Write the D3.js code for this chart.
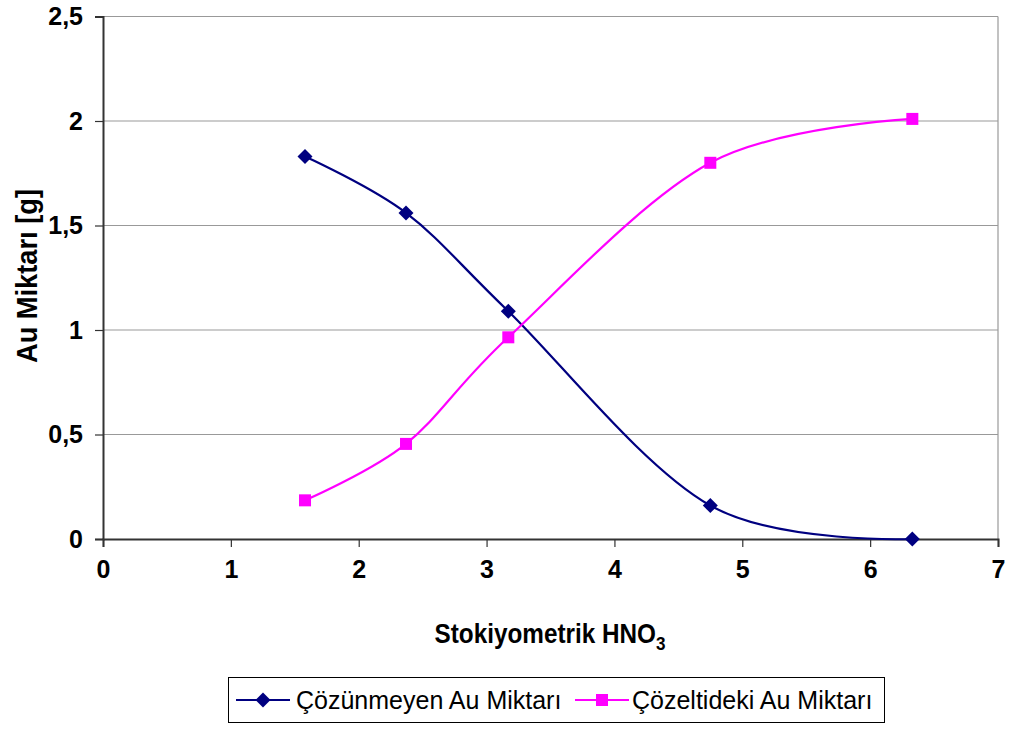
<!DOCTYPE html>
<html>
<head>
<meta charset="utf-8">
<script src="https://cdn.jsdelivr.net/npm/d3@7"></script>
<style>
  body { margin: 0; background: #fff; }
  svg { display: block; font-family: "Liberation Sans", Arial, sans-serif; }
</style>
</head>
<body>
<svg id="chart" width="1010" height="729"></svg>
<script>
// Stoichiometric HNO3 ratio used in each run
const hno3 = [1.58, 2.37, 3.17, 4.75, 6.33];
// Undissolved gold (g)
const undissolved = [1.83, 1.56, 1.09, 0.16, 0.0];
// Gold in solution (g)
const dissolved = [0.185, 0.455, 0.965, 1.80, 2.01];

const xTicks = [0, 1, 2, 3, 4, 5, 6, 7];
const yTicks = [0, 0.5, 1, 1.5, 2, 2.5];
const seriesNames = ["Çözünmeyen Au Miktarı", "Çözeltideki Au Miktarı"];
const seriesColors = ["#000080", "#ff00ff"];

const svg = d3.select("#chart");
const m = { left: 103, right: 12, top: 16.5, bottom: 190 };
const W = 1010, H = 729;

const x = d3.scaleLinear().domain([0, 7]).range([m.left, W - m.right]);
const y = d3.scaleLinear().domain([0, 2.5]).range([H - m.bottom, m.top]);

const fmt = d => String(d).replace(".", ",");

// Horizontal gridlines
svg.append("g").selectAll("line").data(yTicks.filter(d => d > 0)).join("line")
  .attr("x1", x(0)).attr("x2", x(7))
  .attr("y1", d => y(d)).attr("y2", d => y(d))
  .attr("stroke", "#999").attr("stroke-width", 1.2);

// Right border of plot area
svg.append("line")
  .attr("x1", x(7)).attr("x2", x(7)).attr("y1", y(2.5)).attr("y2", y(0))
  .attr("stroke", "#999").attr("stroke-width", 1.2);

// Y axis
const yAxis = svg.append("g").attr("transform", `translate(${x(0)},0)`)
  .call(d3.axisLeft(y).tickValues(yTicks).tickFormat(fmt).tickSize(8).tickPadding(12));
// X axis
const xAxis = svg.append("g").attr("transform", `translate(0,${y(0)})`)
  .call(d3.axisBottom(x).tickValues(xTicks).tickFormat(d3.format("d")).tickSize(8).tickPadding(13));

[yAxis, xAxis].forEach(a => {
  a.select(".domain").attr("stroke", "#333").attr("stroke-width", 2);
  a.selectAll(".tick line").attr("stroke", "#333").attr("stroke-width", 1.2);
  a.selectAll(".tick text").attr("fill", "#000")
    .style("font-size", "25px").style("font-weight", "bold")
    .style("font-family", "'Liberation Sans', Arial, sans-serif");
});

// Series lines (smoothed)
const line = d3.line().x(d => x(d[0])).y(d => y(d[1])).curve(d3.curveCatmullRom.alpha(0));
const series = [undissolved, dissolved].map(v => hno3.map((h, i) => [h, v[i]]));

series.forEach((pts, si) => {
  svg.append("path").datum(pts)
    .attr("fill", "none").attr("stroke", seriesColors[si]).attr("stroke-width", 2.2)
    .attr("d", line);
});

// Markers
const diamond = (cx, cy, r) => `M${cx},${cy - r}L${cx + r},${cy}L${cx},${cy + r}L${cx - r},${cy}Z`;
svg.append("g").selectAll("path").data(series[0]).join("path")
  .attr("d", d => diamond(x(d[0]), y(d[1]), 7.5))
  .attr("fill", seriesColors[0]);
svg.append("g").selectAll("rect").data(series[1]).join("rect")
  .attr("x", d => x(d[0]) - 6).attr("y", d => y(d[1]) - 6)
  .attr("width", 12).attr("height", 12)
  .attr("fill", seriesColors[1]);

// Axis titles (slightly condensed bold type)
svg.append("text")
  .attr("transform", "translate(550,643) scale(0.9,1)")
  .attr("text-anchor", "middle")
  .style("font-size", "27px").style("font-weight", "bold")
  .text("Stokiyometrik HNO")
  .append("tspan").attr("dy", 7).style("font-size", "19px").text("3");

svg.append("text")
  .attr("transform", "translate(37,276) rotate(-90) scale(0.94,1)")
  .attr("text-anchor", "middle")
  .style("font-size", "29px").style("font-weight", "bold")
  .text("Au Miktarı [g]");

// Legend
const lg = svg.append("g");
lg.append("rect").attr("x", 228.5).attr("y", 677.5).attr("width", 656).attr("height", 45)
  .attr("fill", "#fff").attr("stroke", "#000").attr("stroke-width", 1);
const legendItems = [
  { sx: 236, tx: 296 },
  { sx: 575, tx: 632 }
];
legendItems.forEach((it, i) => {
  const cy = 700;
  lg.append("line").attr("x1", it.sx).attr("x2", it.sx + 54).attr("y1", cy).attr("y2", cy)
    .attr("stroke", seriesColors[i]).attr("stroke-width", 2.2);
  if (i === 0) {
    lg.append("path").attr("d", diamond(it.sx + 27, cy, 7.5)).attr("fill", seriesColors[i]);
  } else {
    lg.append("rect").attr("x", it.sx + 21).attr("y", cy - 6).attr("width", 12).attr("height", 12)
      .attr("fill", seriesColors[i]);
  }
  lg.append("text").attr("x", it.tx).attr("y", cy + 9)
    .style("font-size", "25px")
    .text(seriesNames[i]);
});
</script>
</body>
</html>
